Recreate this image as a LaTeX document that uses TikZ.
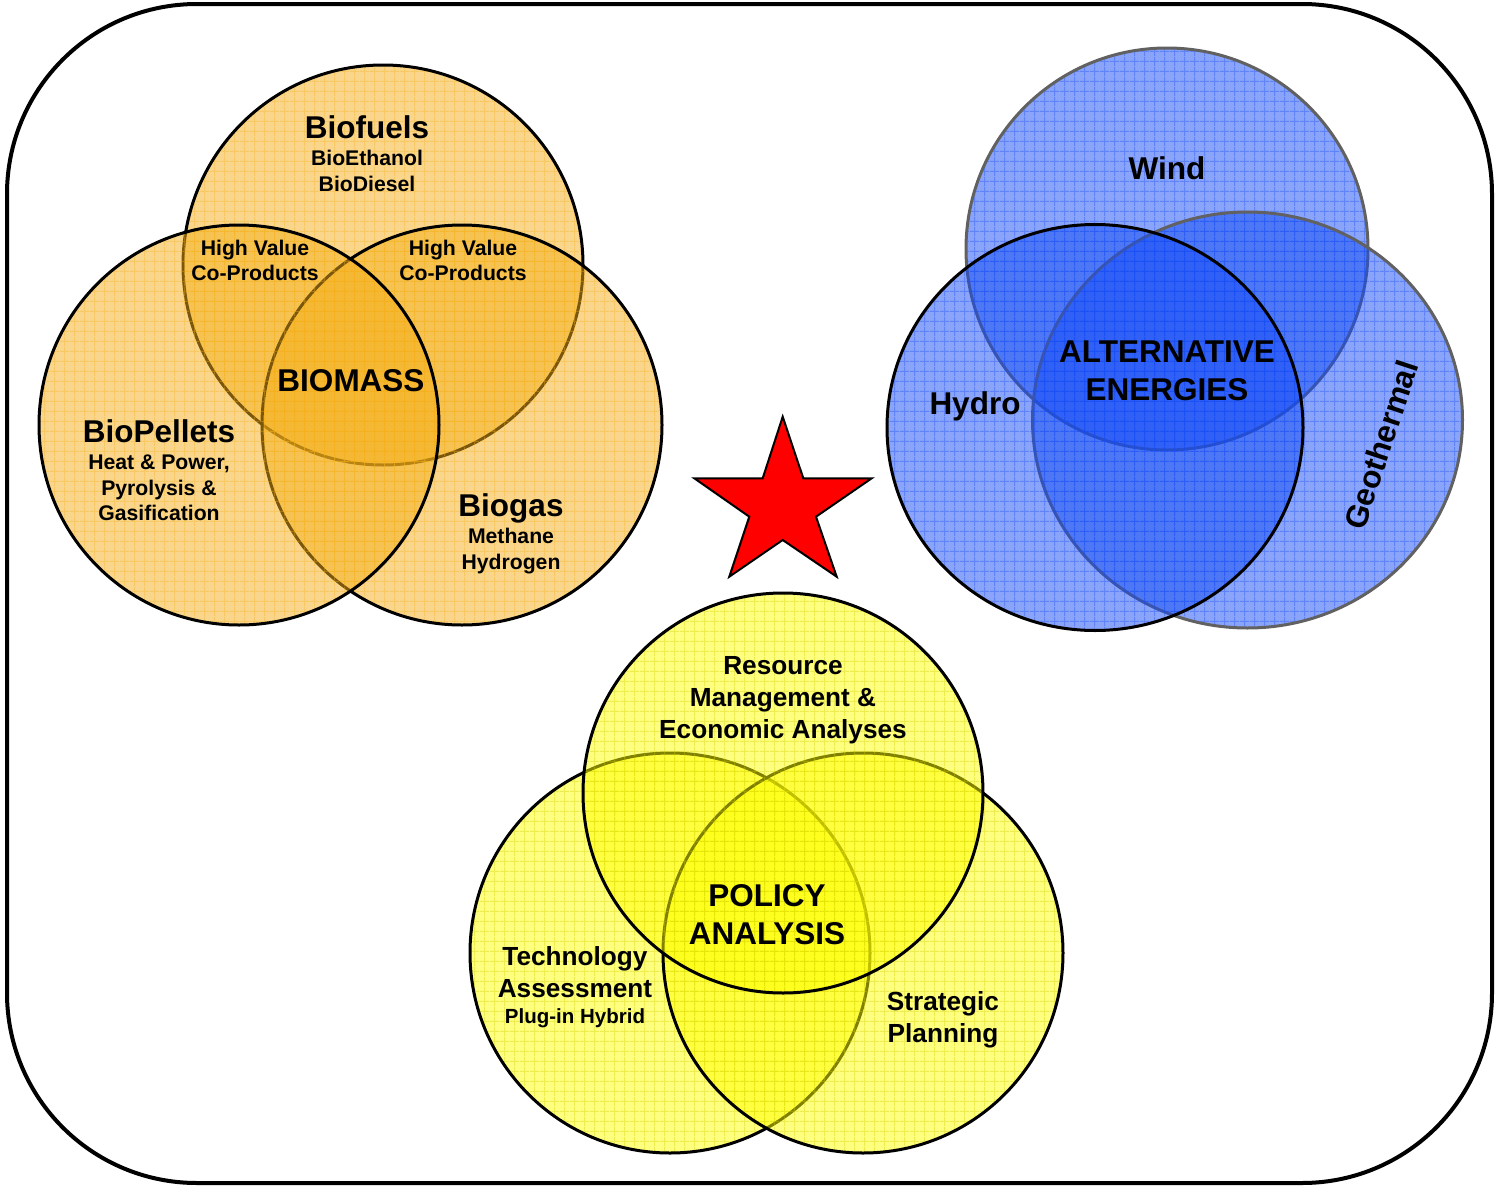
\documentclass[tikz,border=0pt]{standalone}
\usepackage{fontspec}
\setmainfont{Liberation Sans}
\usetikzlibrary{patterns.meta}
\definecolor{bioc}{RGB}{245,175,25}
\definecolor{altc}{RGB}{20,75,245}
\definecolor{polc}{RGB}{255,255,0}
\tikzdeclarepattern{
  name=cellgrid,
  type=uncolored,
  bounding box={(0pt,0pt) and (10pt,10pt)},
  tile size={(10pt,10pt)},
  code={
    \draw[line width=1pt] (0pt,5pt) -- (10pt,5pt);
    \draw[line width=1pt] (5pt,0pt) -- (5pt,10pt);
  }
}
\newcommand\vennpart[4]{% path spec, fill colour, grid colour, outline colour
  \fill[#2, fill opacity=0.5] #1;
  \fill[pattern=cellgrid, pattern color=#3, fill opacity=0.35] #1;
  \draw[line width=3pt, draw=#4] #1;
}
\begin{document}
\begin{tikzpicture}[x=1pt,y=-1pt,
  big/.style={font=\fontsize{31.5}{38}\selectfont\bfseries, inner sep=0, anchor=base},
  mid/.style={font=\fontsize{26.2}{32}\selectfont\bfseries, inner sep=0, anchor=base},
  sml/.style={font=\fontsize{21.2}{26}\selectfont\bfseries, inner sep=0, anchor=base},
  tny/.style={font=\fontsize{20.5}{24}\selectfont\bfseries, inner sep=0, anchor=base}]
\useasboundingbox (0,0) rectangle (1497,1186);
\fill[white] (0,0) rectangle (1497,1186);
% frame
\draw[line width=4pt, rounded corners=190pt] (7,4) rectangle (1492,1183);

% biomass circles
\vennpart{(383,265) circle[radius=200]}{bioc}{bioc}{black}
\vennpart{(462,425) circle[radius=200]}{bioc}{bioc}{black}
\vennpart{(239,425) circle[radius=200]}{bioc}{bioc}{black}

% alternative energies circles
\vennpart{(1167,249) circle[radius=201]}{altc}{altc}{black!62}
\vennpart{(1247.5,420) ellipse[x radius=215, y radius=208]}{altc}{altc}{black!62}
\vennpart{(1095,427.5) ellipse[x radius=208, y radius=203]}{altc}{altc}{black}

% policy circles
\vennpart{(670,953) circle[radius=200]}{polc}{polc!80!black}{black}
\vennpart{(863,953) circle[radius=200]}{polc}{polc!80!black}{black}
\vennpart{(783,793) circle[radius=200]}{polc}{polc!80!black}{black}

% star
\draw[fill=red, line width=2pt, line join=miter]
  (782.7,416.7) -- (803.3,478.3) -- (871.7,478.3) -- (816,516.7) -- (836.7,576.7)
  -- (782.7,540) -- (729.3,576.7) -- (749.3,516.7) -- (694.3,478.3) -- (762.7,478.3) -- cycle;

% biomass texts
\node[big] (biofuels) at (367,138.3) {Biofuels};
\node[sml] (bioeth) at (367,165.5) {BioEthanol};
\node[sml] (biodies) at (367,191.5) {BioDiesel};
\node[sml] (hv1) at (255,255.5) {High Value};
\node[sml] (cp1) at (255,280.5) {Co-Products};
\node[sml] (hv2) at (463,255.5) {High Value};
\node[sml] (cp2) at (463,280.5) {Co-Products};
\node[big] (biomass) at (351,391.3) {BIOMASS};
\node[big] (biopel) at (159,442.3) {BioPellets};
\node[sml] (heat) at (159,469.5) {Heat \& Power,};
\node[sml] (pyro) at (159,495.5) {Pyrolysis \&};
\node[sml] (gasif) at (159,520.5) {Gasification};
\node[big] (biogas) at (511,516.3) {Biogas};
\node[sml] (meth) at (511,543.5) {Methane};
\node[sml] (hydrog) at (511,569.5) {Hydrogen};

% alternative energies texts
\node[big] (wind) at (1167,179.3) {Wind};
\node[big] (alt) at (1167,362.3) {ALTERNATIVE};
\node[big] (ener) at (1167,400.3) {ENERGIES};
\node[big] (hydro) at (975,414.3) {Hydro};
\node[big, anchor=center, rotate=71.7] (geo) at (1381,445) {Geothermal};

% policy texts
\node[mid] (res) at (783,674.3) {Resource};
\node[mid] (mgmt) at (783,706.3) {Management \&};
\node[mid] (econ) at (783,738.3) {Economic Analyses};
\node[big] (policy) at (767,906.3) {POLICY};
\node[big] (analysis) at (767,944.3) {ANALYSIS};
\node[mid] (tech) at (575,965.3) {Technology};
\node[mid] (assess) at (575,997.3) {Assessment};
\node[tny] (plug) at (575,1023) {Plug-in Hybrid};
\node[mid] (strat) at (943,1010.3) {Strategic};
\node[mid] (plan) at (943,1042.3) {Planning};
\end{tikzpicture}
\end{document}
